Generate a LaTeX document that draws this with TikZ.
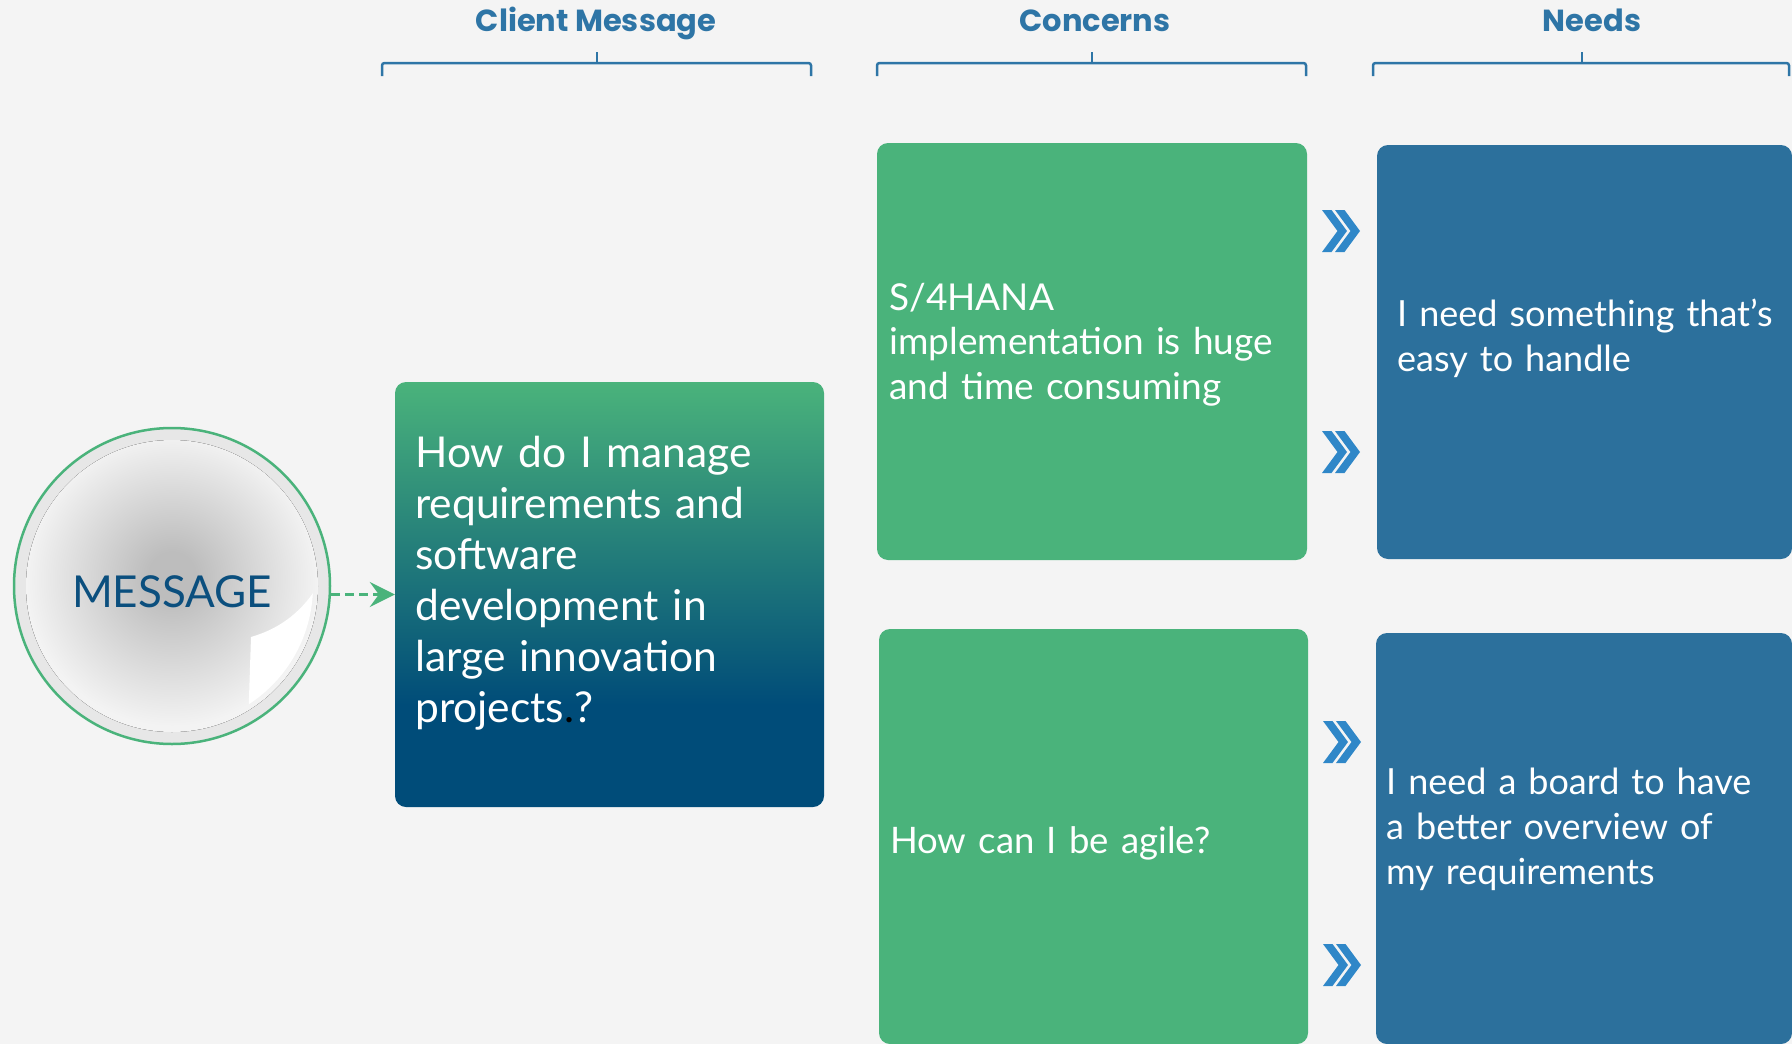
\documentclass[tikz,border=0pt]{standalone}
\usepackage{fontspec}
\setmainfont{Lato}
\newfontfamily\headfont{Poppins}
\usetikzlibrary{arrows.meta,calc}
\definecolor{bgc}{HTML}{F4F4F4}
\definecolor{boxgreen}{HTML}{4AB37B}
\definecolor{boxblue}{HTML}{2C709C}
\definecolor{darkend}{HTML}{004C79}
\definecolor{chevc}{HTML}{2F87C8}
\definecolor{headc}{HTML}{2E75A6}
\definecolor{msgc}{HTML}{0B4F7E}
\definecolor{ringc}{HTML}{E7E7E7}
\definecolor{bubin}{HTML}{BDBDBD}
\definecolor{bubout}{HTML}{F3F3F3}
\pgfdeclareverticalshading{clientgrad}{100bp}{color(0bp)=(darkend); color(37bp)=(darkend); color(75bp)=(boxgreen); color(100bp)=(boxgreen)}
\pgfdeclareradialshading{bubble}{\pgfpoint{0bp}{2bp}}{color(0bp)=(bubin); color(4bp)=(bubin); color(25bp)=(bubout); color(50bp)=(bubout)}
\begin{document}
\begin{tikzpicture}[x=1pt,y=-1pt,
  box/.style={rectangle, rounded corners=11pt, inner sep=0pt, draw=none},
  gbox/.style={box, fill=boxgreen},
  bbox/.style={box, fill=boxblue},
  boxtext/.style={anchor=base west, text=white, inner sep=0pt, text width=420pt, align=left},
  headtext/.style={anchor=base, text=headc, inner sep=0pt, font=\headfont\bfseries\fontsize{30.5}{34}\selectfont},
  bracket/.style={draw=headc, line width=2.5pt, rounded corners=2.5pt},
  chevron/.pic={
    \fill[chevc] (0,-21)--(9.5,-21)--(25,0)--(9.5,21)--(0,21)--(15.5,0)--cycle;
    \fill[chevc] (13,-21)--(22.5,-21)--(38,0)--(22.5,21)--(13,21)--(28.5,0)--cycle;
  }]
\fill[bgc] (0,0) rectangle (1792,1044);
\useasboundingbox (0,0) rectangle (1792,1044);

% headers
\node[headtext] (h1) at (596,31) {Client Message};
\node[headtext] (h2) at (1095,31) {Concerns};
\node[headtext] (h3) at (1592,31) {Needs};
\draw[bracket] (382,76) -- (382,63) -- (811,63) -- (811,76);
\draw[headc, line width=2.5pt] (597,63) -- (597,52);
\draw[bracket] (877,76) -- (877,63) -- (1306,63) -- (1306,76);
\draw[headc, line width=2.5pt] (1092,63) -- (1092,52);
\draw[bracket] (1373,76) -- (1373,63) -- (1789,63) -- (1789,76);
\draw[headc, line width=2.5pt] (1582,63) -- (1582,52);

% message bubble
\node[circle, draw=boxgreen, line width=2.5pt, fill=ringc, minimum size=316pt, inner sep=0pt] (msg) at (172,586) {};
\fill[shading=bubble] (msg.center) circle[radius=146];
\fill[white] ($(msg.center)+(3:141)$) .. controls (296,617) and (275,630) .. (251,637)
  -- ($(msg.center)+(57:141)$) arc[start angle=57, end angle=3, radius=141] -- cycle;
\node[text=msgc, inner sep=0pt, font=\fontsize{44}{46}\selectfont] (msgtext) at (172,592) {MESSAGE};

% client box
\node[box, shade, shading=clientgrad, minimum width=429pt, minimum height=425pt] (client) at (609.5,594.5) {};
\node[boxtext, font=\fontsize{42.5}{51}\selectfont] (clienttext) at (415,467)
  {How do I manage\\requirements and\\software\\development in\\large innovation\\projects{\color{black}.}?};

% concerns
\node[gbox, minimum width=430pt, minimum height=417pt] (c1) at (1092,351.5) {};
\node[boxtext, font=\fontsize{37}{44.5}\selectfont] (c1text) at (889,310)
  {S/4HANA\\implementation is huge\\and time consuming};
\node[gbox, minimum width=429pt, minimum height=415pt] (c2) at (1093.5,836.5) {};
\node[boxtext, font=\fontsize{36.5}{44.5}\selectfont] (c2text) at (890,853) {How can I be agile?};

% needs
\node[bbox, minimum width=415pt, minimum height=414pt] (n1) at (1584.5,352) {};
\node[boxtext, font=\fontsize{36}{45}\selectfont] (n1text) at (1397,326)
  {I need something that’s\\easy to handle};
\node[bbox, minimum width=416pt, minimum height=411pt] (n2) at (1584,838.5) {};
\node[boxtext, font=\fontsize{36}{45}\selectfont] (n2text) at (1386,794)
  {I need a board to have\\a better overview of\\my requirements};

% chevrons
\pic at (1322,231) {chevron};
\pic at (1322,452) {chevron};
\pic at (1323,742) {chevron};
\pic at (1323,965) {chevron};

% dashed arrow
\draw[boxgreen, line width=3pt, dash pattern=on 9pt off 5pt, -{Stealth[length=25pt, width=25pt, inset=9pt]}]
  (client.west -| msg.east) -- (client.west);
\end{tikzpicture}
\end{document}
